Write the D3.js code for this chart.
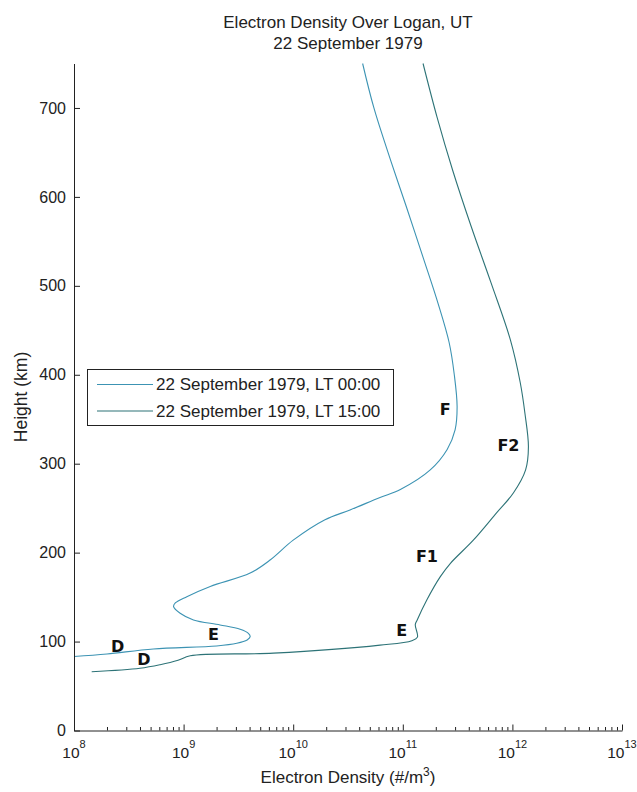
<!DOCTYPE html>
<html>
<head>
<meta charset="utf-8">
<script src="https://cdn.jsdelivr.net/npm/d3@7"></script>
<style>
  html, body { margin: 0; padding: 0; background: #fff; }
  svg { display: block; }
  text { font-family: "Liberation Sans", Arial, Helvetica, sans-serif; fill: #222; }
  .mark { font-family: "DejaVu Sans", sans-serif; font-weight: bold; fill: #111; }
</style>
</head>
<body>
<svg id="chart" width="637" height="792"></svg>
<script>
// Night-time profile, LT 00:00: height (km) and electron density (#/m^3)
const heightLT00 = [750, 700, 640, 590, 530, 480, 436, 400, 364, 338, 316, 293, 271, 262, 248, 237,
  214, 192, 177, 162, 150.5, 143.4, 139.3, 131.8, 124.3, 118.7, 113.8, 109.3, 105.5, 101.8, 98.1,
  95.1, 91.7, 86.1, 83.2];
const densityLT00 = [4.3e10, 5.45e10, 7.8e10, 1.07e11, 1.55e11, 2.1e11, 2.65e11, 2.95e11, 3.13e11, 3.0e11,
  2.54e11, 1.78e11, 9.5e10, 6.2e10, 3.3e10, 1.95e10, 1.0e10, 6.2e9, 4.05e9, 1.75e9, 1.07e9, 8.4e8,
  8.1e8, 9.3e8, 1.23e9, 2.15e9, 3.28e9, 3.9e9, 4.05e9, 3.8e9, 3.06e9, 2.0e9, 5.3e8, 2.0e8, 1.0e8];

// Daytime profile, LT 15:00
const heightLT15 = [750, 690, 630, 567, 503, 439, 391, 357, 319, 293, 267, 245, 214, 188, 173, 147,
  124, 119, 105, 101, 96, 87, 84, 79, 74, 70, 66];
const densityLT15 = [1.53e11, 2.05e11, 2.85e11, 4.2e11, 6.4e11, 9.6e11, 1.18e12, 1.3e12, 1.4e12,
  1.32e12, 1.02e12, 7.2e11, 4.4e11, 2.72e11, 2.2e11, 1.66e11, 1.35e11, 1.3e11, 1.36e11, 1.21e11,
  6.2e10, 6.6e9, 1.15e9, 8.9e8, 6.1e8, 4.0e8, 1.45e8];

const seriesNames = ["22 September 1979, LT 00:00", "22 September 1979, LT 15:00"];

// Ionospheric layer labels (density, height, text)
const layerNames   = ["F", "F2", "F1", "E", "E", "D", "D"];
const layerDensity = [2.44e11, 9.2e11, 1.66e11, 9.8e10, 1.87e9, 2.5e8, 4.35e8];
const layerHeight  = [360.6, 321, 195.5, 113, 107.4, 94.3, 79.3];

// Axis ticks
const yTicks = [0, 100, 200, 300, 400, 500, 600, 700];
const xDecades = [8, 9, 10, 11, 12, 13];

const colors = ["#3c93b3", "#2d7377"];

const svg = d3.select("#chart");
const W = 637, H = 792;
const margin = { top: 63.5, right: 15, bottom: 61.5, left: 74 };
const innerW = W - margin.left - margin.right;
const innerH = H - margin.top - margin.bottom;

const x = d3.scaleLog().domain([1e8, 1e13]).range([margin.left, margin.left + innerW]);
const y = d3.scaleLinear().domain([0, 750]).range([margin.top + innerH, margin.top]);

// Curves
const profiles = [
  heightLT00.map((h, i) => ({ h, n: densityLT00[i] })),
  heightLT15.map((h, i) => ({ h, n: densityLT15[i] }))
];
const line = d3.line()
  .x(d => x(d.n))
  .y(d => y(d.h))
  .curve(d3.curveCatmullRom.alpha(0.5));

svg.append("g").selectAll("path")
  .data(profiles)
  .join("path")
  .attr("d", line)
  .attr("fill", "none")
  .attr("stroke", (d, i) => colors[i])
  .attr("stroke-width", 1.1);

// X axis: major decades with inward ticks, minor ticks at 2..9
const xMinor = [];
for (let e = 8; e < 13; e++) for (let m = 2; m <= 9; m++) xMinor.push(m * Math.pow(10, e));

const xAxisG = svg.append("g").attr("transform", `translate(0,${margin.top + innerH})`);
xAxisG.call(d3.axisBottom(x).tickValues(xMinor).tickSize(-3.5).tickFormat(""))
  .call(g => g.select(".domain").remove());
xAxisG.append("g")
  .call(d3.axisBottom(x).tickValues(xDecades.map(e => Math.pow(10, e))).tickSize(-6).tickSizeOuter(0).tickFormat(""));
xAxisG.selectAll("line, path").attr("stroke", "#222");

// Decade labels as 10 with a superscript exponent
const xLab = svg.append("g").selectAll("text")
  .data(xDecades)
  .join("text")
  .attr("x", e => x(Math.pow(10, e)))
  .attr("y", margin.top + innerH + 27.5)
  .attr("text-anchor", "middle")
  .style("font-size", "15.5px");
xLab.append("tspan").text("10");
xLab.append("tspan").attr("dy", -10).style("font-size", "11px").text(e => e);

// Y axis
const yAxisG = svg.append("g").attr("transform", `translate(${margin.left},0)`);
yAxisG.call(d3.axisLeft(y).tickValues(yTicks).tickSize(-6).tickSizeOuter(0).tickPadding(8));
yAxisG.selectAll("line, path").attr("stroke", "#222");
yAxisG.selectAll("text").style("font-size", "16px").style("font-family", "'Liberation Sans', Arial, sans-serif").attr("fill", "#222");

// Titles and axis labels
svg.append("text").attr("x", margin.left + innerW / 2).attr("y", 28).attr("text-anchor", "middle")
  .style("font-size", "17px").text("Electron Density Over Logan, UT");
svg.append("text").attr("x", margin.left + innerW / 2).attr("y", 49).attr("text-anchor", "middle")
  .style("font-size", "17px").text("22 September 1979");

const xTitle = svg.append("text").attr("x", margin.left + innerW / 2).attr("y", 783)
  .attr("text-anchor", "middle").style("font-size", "17px");
xTitle.append("tspan").text("Electron Density (#/m");
xTitle.append("tspan").attr("dy", -7).style("font-size", "12px").text("3");
xTitle.append("tspan").attr("dy", 7).text(")");

svg.append("text")
  .attr("transform", `translate(27,${margin.top + innerH / 2}) rotate(-90)`)
  .attr("text-anchor", "middle")
  .style("font-size", "17.5px")
  .text("Height (km)");

// Layer labels
svg.append("g").selectAll("text")
  .data(layerNames)
  .join("text")
  .attr("class", "mark")
  .attr("x", (d, i) => x(layerDensity[i]))
  .attr("y", (d, i) => y(layerHeight[i]))
  .attr("text-anchor", "middle")
  .attr("dominant-baseline", "central")
  .style("font-size", "16px")
  .text(d => d);

// Legend
const legend = svg.append("g").attr("transform", "translate(87,369)");
legend.append("rect").attr("x", 0.5).attr("y", 0.5).attr("width", 306).attr("height", 56)
  .attr("fill", "#fff").attr("stroke", "#222").attr("stroke-width", 1);
const item = legend.selectAll("g.item").data(seriesNames).join("g")
  .attr("class", "item")
  .attr("transform", (d, i) => `translate(0,${15.5 + i * 26.5})`);
item.append("line").attr("x1", 10).attr("x2", 66).attr("y1", 0).attr("y2", 0)
  .attr("stroke", (d, i) => colors[i]).attr("stroke-width", 1.1);
item.append("text").attr("x", 69).attr("y", 0).attr("dominant-baseline", "central")
  .style("font-size", "17px").text(d => d);
</script>
</body>
</html>
